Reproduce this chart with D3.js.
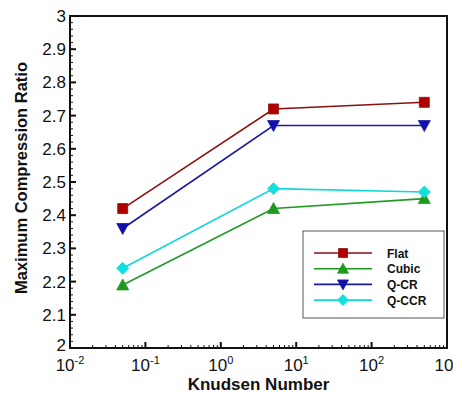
<!DOCTYPE html>
<html>
<head>
<meta charset="utf-8">
<script src="https://cdn.jsdelivr.net/npm/d3@7"></script>
<style>
  body { margin: 0; background: white; }
  text { font-family: "Liberation Sans", Arial, sans-serif; }
</style>
</head>
<body>
<div id="chart"></div>
<script>
// data
const knudsen = [0.05, 5, 500];
const seriesNames = ['Flat', 'Cubic', 'Q-CR', 'Q-CCR'];
const flatValues = [2.42, 2.72, 2.74];
const cubicValues = [2.19, 2.42, 2.45];
const qcrValues = [2.36, 2.67, 2.67];
const qccrValues = [2.24, 2.48, 2.47];
const yTicks = [2, 2.1, 2.2, 2.3, 2.4, 2.5, 2.6, 2.7, 2.8, 2.9, 3];
const xExponents = [-2, -1, 0, 1, 2, 3];

const series = [
    { name: seriesNames[0], values: flatValues, line: '#8b1010', fill: '#b00000', symbol: 'square' },
    { name: seriesNames[1], values: cubicValues, line: '#1e9a1e', fill: '#1e9a1e', symbol: 'up' },
    { name: seriesNames[2], values: qcrValues, line: '#1a1aa0', fill: '#1010b0', symbol: 'down' },
    { name: seriesNames[3], values: qccrValues, line: '#10d8d8', fill: '#10e0e0', symbol: 'diamond' }
];

const W = 453, H = 395;
const margin = { top: 16, right: 6, bottom: 47, left: 70 };

const svg = d3.select('#chart')
    .append('svg')
    .attr('width', W)
    .attr('height', H);

const x = d3.scaleLog()
    .domain([1e-2, 1e3])
    .range([margin.left, W - margin.right]);

const y = d3.scaleLinear()
    .domain([2, 3])
    .range([H - margin.bottom, margin.top]);

const plotBottom = H - margin.bottom;

// frame
svg.append('rect')
    .attr('x', margin.left)
    .attr('y', margin.top)
    .attr('width', x.range()[1] - margin.left)
    .attr('height', plotBottom - margin.top)
    .attr('fill', 'none')
    .attr('stroke', '#111')
    .attr('stroke-width', 2);

// y axis ticks (inside)
const yMinor = d3.range(2, 3.001, 0.02);
svg.append('g').selectAll('line')
    .data(yMinor)
    .enter().append('line')
    .attr('x1', margin.left)
    .attr('x2', margin.left + 3)
    .attr('y1', d => y(d))
    .attr('y2', d => y(d))
    .attr('stroke', '#111')
    .attr('stroke-width', 1);

svg.append('g').selectAll('line')
    .data(yTicks)
    .enter().append('line')
    .attr('x1', margin.left)
    .attr('x2', margin.left + 6)
    .attr('y1', d => y(d))
    .attr('y2', d => y(d))
    .attr('stroke', '#111')
    .attr('stroke-width', 2);

svg.append('g').selectAll('text')
    .data(yTicks)
    .enter().append('text')
    .attr('x', margin.left - 4)
    .attr('y', d => y(d) + (d === 2 ? 3 : 6))
    .attr('text-anchor', 'end')
    .style('font-size', '17px')
    .style('fill', '#111')
    .text(d => d === 2 || d === 3 ? String(d) : d.toFixed(1));

// x axis ticks (log, inside)
const xMinor = [];
for (let e = -2; e < 3; e++) {
    for (let m = 2; m < 10; m++) xMinor.push(m * Math.pow(10, e));
}
svg.append('g').selectAll('line')
    .data(xMinor)
    .enter().append('line')
    .attr('x1', d => x(d))
    .attr('x2', d => x(d))
    .attr('y1', plotBottom)
    .attr('y2', plotBottom - 3)
    .attr('stroke', '#111')
    .attr('stroke-width', 1);

svg.append('g').selectAll('line')
    .data(xExponents)
    .enter().append('line')
    .attr('x1', d => x(Math.pow(10, d)))
    .attr('x2', d => x(Math.pow(10, d)))
    .attr('y1', plotBottom)
    .attr('y2', plotBottom - 6)
    .attr('stroke', '#111')
    .attr('stroke-width', 2);

// the reference clips the last label (10^3) at the right edge
const xLabels = svg.append('g').selectAll('text')
    .data(xExponents)
    .enter().append('text')
    .attr('x', d => x(Math.pow(10, d)))
    .attr('y', plotBottom + 23)
    .attr('text-anchor', 'middle')
    .style('font-size', '17px')
    .style('fill', '#111');
xLabels.append('tspan').text('10');
xLabels.append('tspan')
    .attr('dy', -7)
    .style('font-size', '11px')
    .text(d => String(d));

// axis titles
svg.append('text')
    .attr('x', (margin.left + x.range()[1]) / 2)
    .attr('y', 390)
    .attr('text-anchor', 'middle')
    .style('font-size', '17px')
    .style('font-weight', 'bold')
    .style('fill', '#111')
    .text('Knudsen Number');

svg.append('text')
    .attr('transform', `translate(27, ${(margin.top + plotBottom) / 2 - 4}) rotate(-90)`)
    .attr('text-anchor', 'middle')
    .style('font-size', '16.5px')
    .style('font-weight', 'bold')
    .style('fill', '#111')
    .text('Maximum Compression Ratio');

// markers
function drawMarker(g, s, cx, cy, size) {
    const h = size / 2;
    let path;
    if (s.symbol === 'square') {
        path = `M${cx - h},${cy - h}h${size}v${size}h${-size}Z`;
    } else if (s.symbol === 'up') {
        path = `M${cx},${cy - h - 1}L${cx + h + 1},${cy + h}L${cx - h - 1},${cy + h}Z`;
    } else if (s.symbol === 'down') {
        path = `M${cx},${cy + h + 1}L${cx + h + 1},${cy - h}L${cx - h - 1},${cy - h}Z`;
    } else {
        path = `M${cx},${cy - h - 1}L${cx + h + 1},${cy}L${cx},${cy + h + 1}L${cx - h - 1},${cy}Z`;
    }
    g.append('path')
        .attr('d', path)
        .attr('fill', s.fill)
        .attr('stroke', s.line)
        .attr('stroke-width', 0.8);
}

const line = d3.line()
    .x(d => x(d[0]))
    .y(d => y(d[1]));

series.forEach(s => {
    const pts = knudsen.map((k, i) => [k, s.values[i]]);
    svg.append('path')
        .datum(pts)
        .attr('d', line)
        .attr('fill', 'none')
        .attr('stroke', s.line)
        .attr('stroke-width', 1.6);
    const g = svg.append('g');
    pts.forEach(p => drawMarker(g, s, x(p[0]), y(p[1]), 10));
});

// legend
const legend = svg.append('g');
legend.append('rect')
    .attr('x', 303)
    .attr('y', 231)
    .attr('width', 141)
    .attr('height', 87)
    .attr('fill', 'white')
    .attr('stroke', '#555')
    .attr('stroke-width', 1);

series.forEach((s, i) => {
    const ly = 253 + i * 15.7;
    legend.append('line')
        .attr('x1', 314)
        .attr('x2', 372)
        .attr('y1', ly)
        .attr('y2', ly)
        .attr('stroke', s.line)
        .attr('stroke-width', 1.6);
    drawMarker(legend, s, 343, ly, 9);
    legend.append('text')
        .attr('x', 387)
        .attr('y', ly + 4.5)
        .style('font-size', '12px')
        .style('font-weight', 'bold')
        .style('fill', '#111')
        .text(s.name);
});
</script>
</body>
</html>
